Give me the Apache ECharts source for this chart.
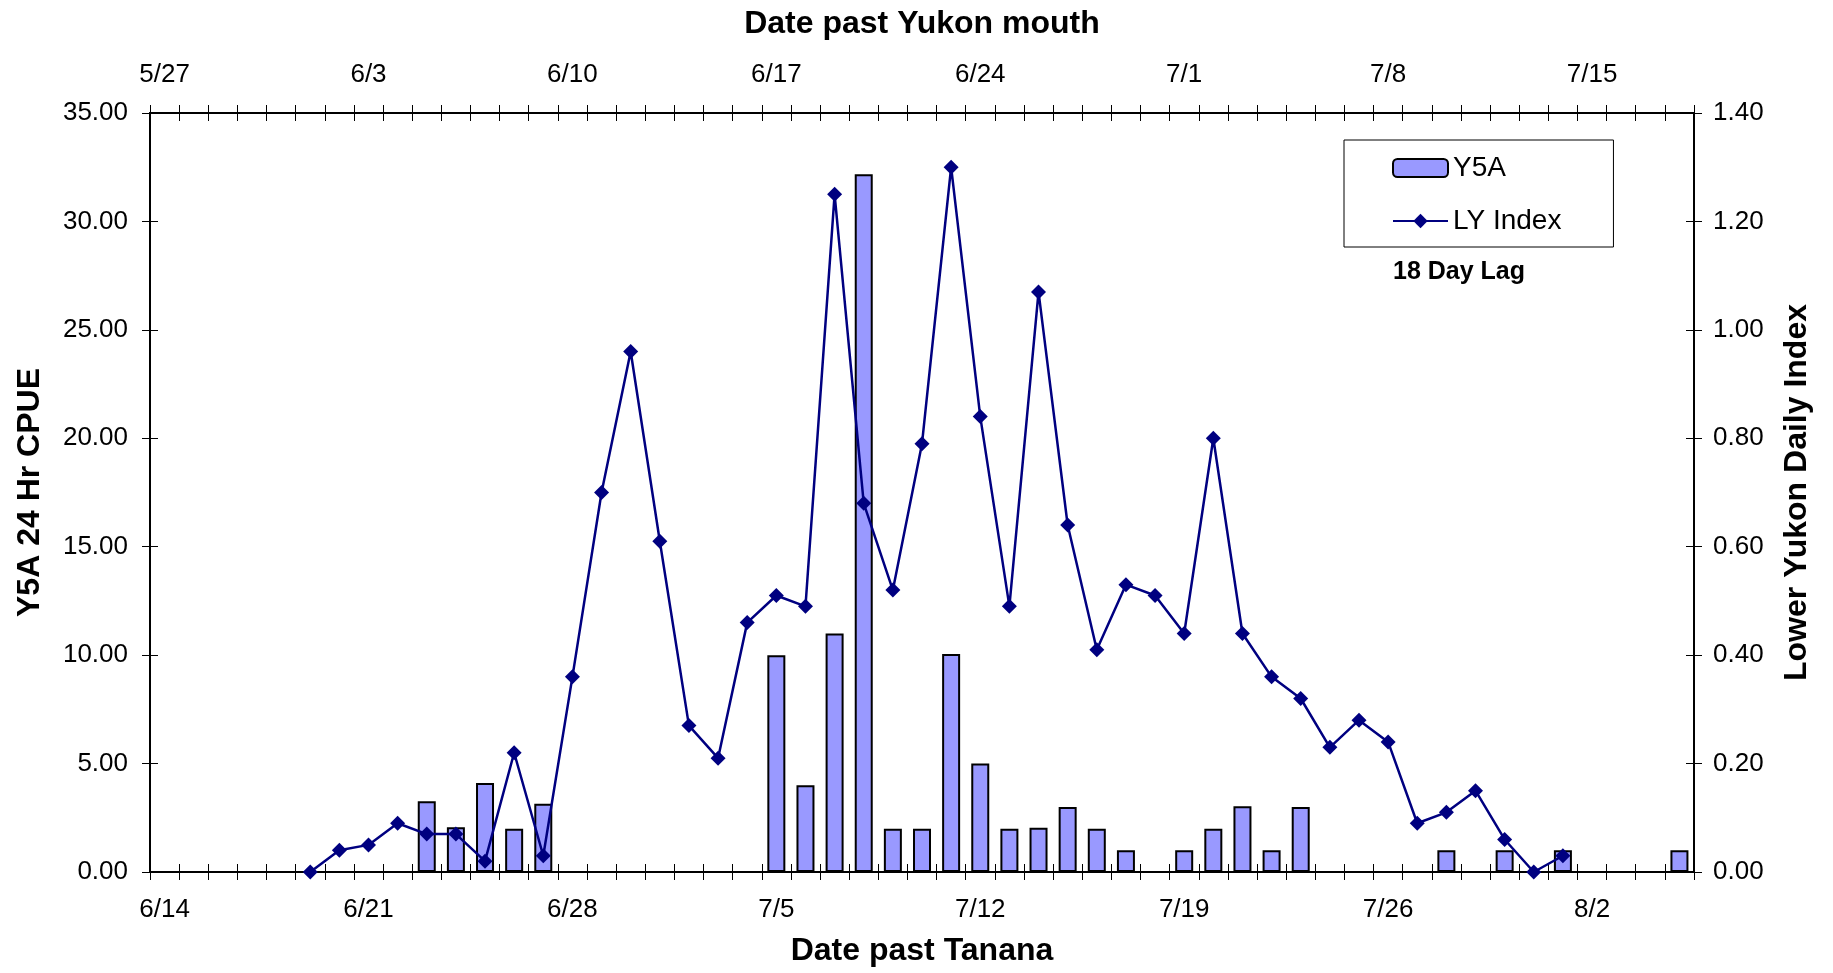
<!DOCTYPE html>
<html>
<head>
<meta charset="utf-8">
<title>Y5A CPUE vs LY Index</title>
<script src="https://cdn.jsdelivr.net/npm/echarts@6/dist/echarts.min.js"></script>
<style>
  html, body { margin: 0; padding: 0; background: #fff; }
  #chart { width: 1833px; height: 973px; }
</style>
</head>
<body>
<div id="chart"></div>
<script>
// ── data ─────────────────────────────────────────────
// date past Tanana (bottom axis)
const tananaDates = [
  '6/14','6/15','6/16','6/17','6/18','6/19','6/20','6/21','6/22','6/23','6/24','6/25','6/26','6/27',
  '6/28','6/29','6/30','7/1','7/2','7/3','7/4','7/5','7/6','7/7','7/8','7/9','7/10','7/11',
  '7/12','7/13','7/14','7/15','7/16','7/17','7/18','7/19','7/20','7/21','7/22','7/23','7/24','7/25',
  '7/26','7/27','7/28','7/29','7/30','7/31','8/1','8/2','8/3','8/4','8/5'
];
// date past Yukon mouth (top axis, 18 day lag)
const yukonDates = [
  '5/27','5/28','5/29','5/30','5/31','6/1','6/2','6/3','6/4','6/5','6/6','6/7','6/8','6/9',
  '6/10','6/11','6/12','6/13','6/14','6/15','6/16','6/17','6/18','6/19','6/20','6/21','6/22','6/23',
  '6/24','6/25','6/26','6/27','6/28','6/29','6/30','7/1','7/2','7/3','7/4','7/5','7/6','7/7',
  '7/8','7/9','7/10','7/11','7/12','7/13','7/14','7/15','7/16','7/17','7/18'
];
// Y5A 24 Hr CPUE
const y5a = [
  null, null, null, null, null, null, null, null, null, 3.26, 2.06, 4.10, 2.00, 3.15,
  null, null, null, null, null, null, null, 10.00, 4.00, 11.00, 32.17, 2.00, 2.00, 10.05,
  5.00, 2.00, 2.04, 3.00, 2.00, 1.00, null, 1.00, 2.00, 3.03, 1.00, 3.00, null, null,
  null, null, 1.00, null, 1.00, null, 1.00, null, null, null, 1.00
];
// Lower Yukon daily index
const lyIndex = [
  null, null, null, null, null, 0.00, 0.04, 0.05, 0.09, 0.07, 0.07, 0.02, 0.22, 0.03,
  0.36, 0.70, 0.96, 0.61, 0.27, 0.21, 0.46, 0.51, 0.49, 1.25, 0.68, 0.52, 0.79, 1.30,
  0.84, 0.49, 1.07, 0.64, 0.41, 0.53, 0.51, 0.44, 0.80, 0.44, 0.36, 0.32, 0.23, 0.28,
  0.24, 0.09, 0.11, 0.15, 0.06, 0.00, 0.03, null, null, null, null
];

// ── chart ────────────────────────────────────────────
const chart = echarts.init(document.getElementById('chart'));

const FONT = 'Liberation Sans, Arial, sans-serif';
const TICK = 8;   // half length of the "cross" ticks
const tickStyle = { color: '#000', width: 1 };
const labelStyle = { color: '#000', fontSize: 26, fontFamily: FONT };
const nameStyle = { color: '#000', fontSize: 32, fontWeight: 'bold', fontFamily: FONT };

// axis lines come from the grid border; each axis is pulled TICK px inward
// so its outward ticks straddle the border (Excel cross ticks)
function xAxisOf(pos, dates, name, gap) {
  return {
    type: 'category',
    position: pos,
    offset: -TICK,
    data: dates,
    boundaryGap: true,
    axisLine: { show: false, onZero: false },
    axisTick: { show: true, interval: 0, length: TICK * 2, lineStyle: tickStyle },
    axisLabel: { ...labelStyle, interval: 6, margin: 25 + TICK },
    splitLine: { show: false },
    name: name,
    nameLocation: 'middle',
    nameGap: gap + TICK,
    nameTextStyle: nameStyle,
  };
}

function yAxisOf(pos, max, step, name, gap, margin) {
  return {
    type: 'value',
    position: pos,
    offset: -TICK,
    min: 0,
    max: max,
    interval: step,
    axisLine: { show: false },
    axisTick: { show: true, length: TICK * 2, lineStyle: tickStyle },
    axisLabel: { ...labelStyle, margin: margin + TICK, formatter: v => v.toFixed(2) },
    splitLine: { show: false },
    name: name,
    nameLocation: 'middle',
    nameGap: gap + TICK,
    nameTextStyle: nameStyle,
  };
}

chart.setOption({
  backgroundColor: '#fff',
  animation: false,
  textStyle: { fontFamily: FONT },
  grid: {
    left: 150, right: 139, top: 113, bottom: 101,
    show: true, borderColor: '#000', borderWidth: 2, backgroundColor: 'transparent',
  },
  title: {
    text: '18 Day Lag',
    left: 1388,
    top: 255,
    textStyle: { color: '#000', fontSize: 25, fontWeight: 'bold', fontFamily: FONT },
  },
  legend: {
    orient: 'vertical',
    left: 1344,
    top: 140,
    padding: [14, 52, 12, 48],
    itemGap: 25,
    itemWidth: 55,
    itemHeight: 18,
    borderColor: '#000',
    borderWidth: 1,
    textStyle: { color: '#000', fontSize: 28, fontFamily: FONT },
    data: ['Y5A', 'LY Index'],
  },
  xAxis: [
    xAxisOf('bottom', tananaDates, 'Date past Tanana', 63),
    xAxisOf('top', yukonDates, 'Date past Yukon mouth', 73),
  ],
  yAxis: [
    yAxisOf('left', 35, 5, 'Y5A 24 Hr CPUE', 104, 22),
    yAxisOf('right', 1.4, 0.2, 'Lower Yukon Daily Index', 87, 19),
  ],
  series: [
    {
      name: 'Y5A',
      type: 'bar',
      xAxisIndex: 0,
      yAxisIndex: 0,
      data: y5a,
      barWidth: 18,
      itemStyle: { color: '#9999ff', borderColor: '#000', borderWidth: 2 },
    },
    {
      name: 'LY Index',
      type: 'line',
      xAxisIndex: 0,
      yAxisIndex: 1,
      data: lyIndex,
      symbol: 'diamond',
      symbolSize: 15,
      lineStyle: { color: '#000080', width: 2.5 },
      itemStyle: { color: '#000080' },
    },
  ],
});
</script>
</body>
</html>
